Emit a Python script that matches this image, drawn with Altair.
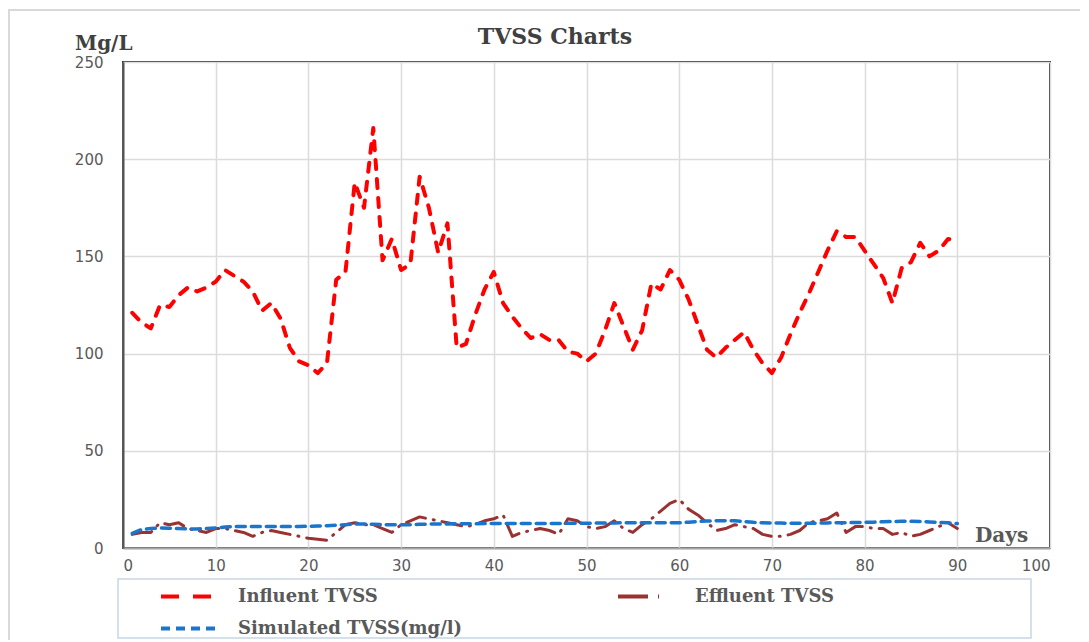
import altair as alt
import pandas as pd

days = list(range(1, 91))

influent = [121, 116, 113, 125, 124, 130, 134, 132, 134, 137,
            143, 140, 137, 132, 122, 126, 118, 103, 96, 94,
            90, 95, 138, 142, 188, 175, 216, 148, 159, 143,
            146, 191, 175, 152, 167, 103, 105, 120, 133, 142,
            126, 119, 113, 108, 110, 107, 107, 101, 100, 96,
            100, 112, 126, 114, 102, 112, 136, 133, 143, 138,
            128, 115, 102, 98, 103, 107, 111, 102, 95, 90,
            98, 110, 121, 131, 142, 153, 163, 160, 160, 153,
            146, 139, 126, 144, 147, 157, 150, 153, 159, 158]

effluent = [7, 8, 8, 13, 12, 13, 10, 9, 8, 10,
            10, 9, 8, 6, 8, 9, 8, 7, 6, 5,
            4.5, 4, 8, 12, 13, 12, 12, 10, 8, 12,
            14, 16, 15, 14, 13, 12, 11, 12, 14, 15,
            17, 6, 8, 9, 10, 9, 7, 15, 14, 11,
            10, 11, 14, 10, 8, 12, 15, 19, 23, 25,
            20, 17, 13, 9, 10, 12, 11, 10, 7, 6,
            6, 7, 9, 13, 14, 15, 18, 8, 11, 11,
            10, 10, 7, 8, 6, 7, 9, 11, 13, 10]

simulated = [7.5, 9.5, 10, 10.3, 10.2, 10, 9.8, 9.8, 10, 10.3,
             10.8, 11, 11, 11, 11, 11, 11, 11, 11, 11.2,
             11.3, 11.5, 11.7, 12, 12.3, 12.3, 12.2, 12, 12, 12,
             12, 12.2, 12.3, 12.3, 12.4, 12.5, 12.5, 12.5, 12.6, 12.6,
             12.6, 12.6, 12.6, 12.6, 12.6, 12.6, 12.6, 12.7, 12.7, 12.7,
             12.8, 12.8, 12.9, 13, 13, 13, 13, 13, 13, 13,
             13.3, 13.6, 13.9, 14, 14, 14, 13.6, 13.2, 13, 12.9,
             12.8, 12.7, 12.7, 12.7, 12.8, 12.9, 13, 13, 13.1, 13.2,
             13.3, 13.5, 13.6, 13.7, 13.7, 13.6, 13.4, 13.2, 13, 12.6]

series_names = ["Influent TVSS", "Effluent TVSS", "Simulated TVSS(mg/l)"]
series_values = [influent, effluent, simulated]
series_colors = ["#ff0000", "#9a3232", "#1a75cc"]
series_dashes = [[9, 10], [20, 8, 1, 8], [9, 6]]
legend_dashes = [[18, 14], [30, 10, 1, 20], [9, 6]]
series_widths = [4, 3, 3.5]
legend_pos = [(36, 504), (493, 504), (36, 536)]

x_ticks = list(range(0, 101, 10))
y_ticks = list(range(0, 251, 50))

label_gray = "#595959"
serif = "DejaVu Serif"

x_enc = alt.X("day:Q", scale=alt.Scale(domain=[0, 100], nice=False),
              axis=alt.Axis(values=x_ticks, title=None, grid=True, ticks=False,
                            labelColor=label_gray, labelFont="DejaVu Sans",
                            labelFontSize=15, labelPadding=10,
                            domainColor="#a6a6a6", domainWidth=2,
                            gridColor="#dcdcdc", gridWidth=1.5))
y_enc = alt.Y("value:Q", scale=alt.Scale(domain=[0, 250], nice=False),
              axis=alt.Axis(values=y_ticks, title=None, grid=True, ticks=False,
                            labelColor=label_gray, labelFont="DejaVu Sans",
                            labelFontSize=15, labelPadding=20,
                            domainColor="#555555", domainWidth=2,
                            gridColor="#dcdcdc", gridWidth=1.5))

line_layers = []
for name, vals, col, dash, ldash, w, (lx, ly) in zip(series_names, series_values, series_colors,
                                                      series_dashes, legend_dashes,
                                                      series_widths, legend_pos):
    d = pd.DataFrame({"day": days, "value": vals, "series": name})
    layer = alt.Chart(d).mark_line(strokeCap="round", strokeJoin="round",
                                   strokeDash=dash, strokeWidth=w).encode(
        x=x_enc,
        y=y_enc,
        color=alt.Color("series:N",
                        scale=alt.Scale(domain=[name], range=[col]),
                        legend=alt.Legend(orient="none", legendX=lx, legendY=ly,
                                          title=None, symbolType="stroke",
                                          symbolSize=3249, symbolStrokeWidth=4,
                                          symbolDash=ldash,
                                          labelFont=serif, labelFontWeight="bold",
                                          labelFontSize=18, labelColor=label_gray,
                                          labelOffset=18, labelLimit=500,
                                          padding=0)),
        order=alt.Order("day:Q"),
    )
    line_layers.append(layer)

frame = alt.Chart().mark_rect(fill=None, stroke="#d9d9d9", strokeWidth=2).encode(
    x=alt.value(-114), x2=alt.value(1100), y=alt.value(-52), y2=alt.value(800)
)

legend_box = alt.Chart().mark_rect(fill=None, stroke="#c9d6e3", strokeWidth=1.5).encode(
    x=alt.value(-5), x2=alt.value(908), y=alt.value(517), y2=alt.value(576)
)

title = alt.Chart().mark_text(font=serif, fontWeight="bold", fontSize=22,
                              color="#404040", align="center", baseline="alphabetic").encode(
    x=alt.value(432), y=alt.value(-18), text=alt.value("TVSS Charts")
)

ylabel = alt.Chart().mark_text(font=serif, fontWeight="bold", fontSize=20,
                               color="#404040", align="left", baseline="alphabetic").encode(
    x=alt.value(-48), y=alt.value(-12), text=alt.value("Mg/L")
)

xlabel = alt.Chart().mark_text(font=serif, fontWeight="bold", fontSize=20,
                               color=label_gray, align="left", baseline="alphabetic").encode(
    x=alt.value(852), y=alt.value(480), text=alt.value("Days")
)

chart = alt.layer(frame, *line_layers, legend_box, title, ylabel, xlabel).resolve_scale(
    color="independent"
).resolve_legend(color="independent").properties(
    width=927, height=486,
    autosize=alt.AutoSizeParams(type="none"),
    padding={"left": 115, "top": 54, "right": 30, "bottom": 92},
).configure_view(stroke="#333333", strokeWidth=2)

chart.save("out.html", embed_options={"renderer": "svg", "actions": False})
